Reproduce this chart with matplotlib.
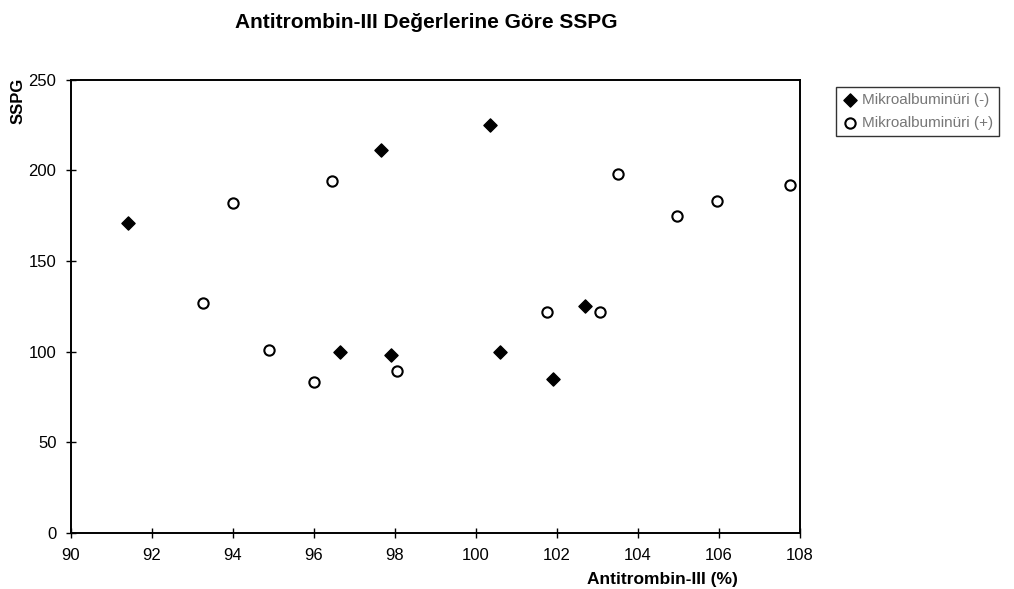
import matplotlib.pyplot as plt

plt.rcParams['font.family'] = ['Liberation Sans', 'DejaVu Sans']

# Mikroalbuminüri (-) : filled diamonds
neg_x = [91.4, 97.65, 100.35, 96.65, 97.9, 100.6, 101.9, 102.7]
neg_y = [171, 211, 225, 100, 98, 100, 85, 125]

# Mikroalbuminüri (+) : open circles
pos_x = [93.25, 94.0, 94.9, 96.0, 96.45, 98.05, 101.75, 103.05, 103.5, 104.95, 105.95, 107.75]
pos_y = [127, 182, 101, 83, 194, 89.5, 122, 122, 198, 175, 183, 192]

x_ticks = [90, 92, 94, 96, 98, 100, 102, 104, 106, 108]
y_ticks = [0, 50, 100, 150, 200, 250]

fig = plt.figure(figsize=(10.14, 5.89), dpi=100)
ax = fig.add_axes([0.070, 0.095, 0.719, 0.770])

ax.scatter(neg_x, neg_y, marker='D', s=45, color='black', label='Mikroalbuminüri (-)', zorder=3)
ax.scatter(pos_x, pos_y, marker='o', s=55, facecolors='white', edgecolors='black',
           linewidths=1.5, label='Mikroalbuminüri (+)', zorder=3)

ax.set_xlim(90, 108)
ax.set_ylim(0, 250)
ax.set_xticks(x_ticks)
ax.set_yticks(y_ticks)
ax.tick_params(direction='inout', length=7, width=1, labelsize=12, colors='black')
ax.tick_params(axis='x', pad=7)
ax.tick_params(axis='y', pad=7)
for s in ax.spines.values():
    s.set_linewidth(1.4)

fig.text(0.42, 0.961, 'Antitrombin-III Değerlerine Göre SSPG', ha='center', va='center',
         fontsize=15, fontweight='bold')
fig.text(0.018, 0.828, 'SSPG', rotation=90, ha='center', va='center', fontsize=12, fontweight='bold')
fig.text(0.653, 0.016, 'Antitrombin-III (%)', ha='center', va='center', fontsize=12.5, fontweight='bold')

leg = fig.legend(loc='upper left', bbox_to_anchor=(0.817, 0.866), fontsize=11, frameon=True,
                 fancybox=False, edgecolor='black', handletextpad=0.3, borderpad=0.4,
                 labelspacing=0.6, handlelength=1.0)
leg.get_frame().set_linewidth(1.0)
for t in leg.get_texts():
    t.set_color('#777777')

fig.savefig('out.png', dpi=100)
